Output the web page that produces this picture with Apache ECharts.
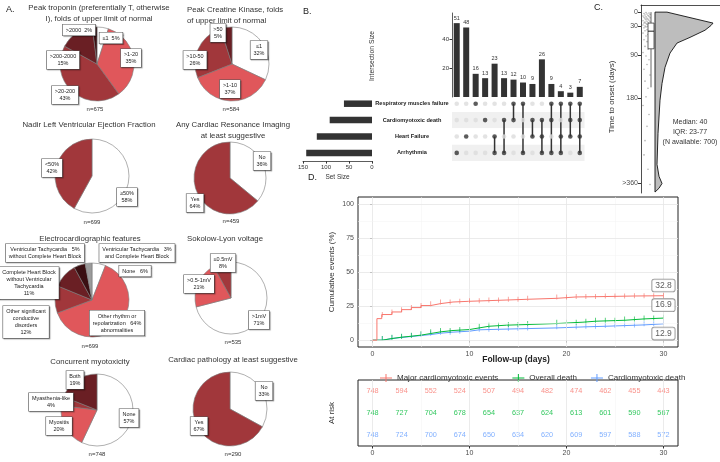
<!DOCTYPE html>
<html><head><meta charset="utf-8">
<script src="https://cdn.jsdelivr.net/npm/echarts@6/dist/echarts.min.js"></script>
<style>html,body{margin:0;padding:0;background:#fff}#c{width:720px;height:462px}</style>
</head><body><div id="c"></div>
<script>
// ================= DATA =================
// Panel A – pie charts (percentages as printed)
const tropNames = ['≤1', '>1-20', '>20-200', '>200-2000', '>2000'];
const tropValues = [5, 35, 43, 15, 2];
const ckNames = ['≤1', '>1-10', '>10-50', '>50'];
const ckValues = [32, 37, 26, 5];
const lvefNames = ['≥50%', '<50%'];
const lvefValues = [58, 42];
const cmrNames = ['No', 'Yes'];
const cmrValues = [36, 64];
const ecgNames = ['None', 'Other rhythm or\nrepolarization\nabnormalities', 'Other significant\nconductive\ndisorders',
  'Complete Heart Block\nwithout Ventricular\nTachycardia', 'Ventricular Tachycardia\nwithout Complete Heart Block',
  'Ventricular Tachycardia\nand Complete Heart Block'];
const ecgValues = [6, 64, 12, 11, 5, 3];
const slNames = ['>1mV', '>0.5-1mV', '≤0.5mV'];
const slValues = [71, 21, 8];
const myoNames = ['None', 'Myositis', 'Myasthenia-like', 'Both'];
const myoValues = [57, 20, 4, 19];
const pathNames = ['No', 'Yes'];
const pathValues = [33, 67];
const pieTitles = [
  'Peak troponin (preferentially T, otherwise\nI), folds of upper limit of normal',
  'Peak Creatine Kinase, folds\nof upper limit of normal',
  'Nadir Left Ventricular Ejection Fraction',
  'Any Cardiac Resonance Imaging\nat least suggestive',
  'Electrocardiographic features',
  'Sokolow-Lyon voltage',
  'Concurrent myotoxicity',
  'Cardiac pathology at least suggestive'];
const pieN = ['n=675', 'n=584', 'n=699', 'n=459', 'n=699', 'n=535', 'n=748', 'n=290'];

// Panel B – UpSet
const setNames = ['Respiratory muscles failure', 'Cardiomyotoxic death', 'Heart Failure', 'Arrhythmia'];
const setSizes = [61, 92, 120, 143];
const intersectSizes = [51, 48, 16, 13, 23, 13, 12, 10, 9, 26, 9, 4, 3, 7];
const intersectSets = [[3], [2], [0], [1], [2, 3], [1, 3], [0, 1], [0, 3], [1, 2], [1, 2, 3], [0, 1, 3], [0, 2, 3], [0, 1, 2], [0, 1, 2, 3]];

// Panel C – time to onset
const onsetTicks = [0, 30, 90, 180, 360];
const violinDays = [0, 6, 12, 18, 23, 28, 38, 53, 65, 86, 116, 150, 185, 255, 320, 345, 360, 370, 378];
const violinDensity = [12, 24, 36, 48, 58, 56, 50, 35, 22, 15, 10, 7, 5, 3, 2, 4, 7, 4, 0];
const boxStats = [0, 23, 40, 77, 158];
const onsetDays = [1, 2, 3, 4, 5, 6, 7, 8, 9, 10, 11, 12, 13, 14, 15, 16, 17, 18, 19, 20, 21, 22, 23, 24, 25, 26, 27, 28, 29, 30,
  31, 33, 35, 37, 39, 41, 44, 47, 50, 54, 58, 62, 67, 72, 78, 85, 92, 100, 110, 120, 132, 145, 160, 178, 196, 215, 240, 270, 300, 330, 362];
const onsetJitter = [5, 8, 3, 6, 9, 4, 7, 2, 8, 5, 3, 9, 6, 4, 7, 5, 8, 2, 6, 9, 4, 7, 3, 5, 8, 6, 2, 9, 4, 7,
  5, 3, 8, 6, 4, 9, 2, 7, 5, 8, 3, 6, 9, 4, 7, 2, 5, 8, 6, 3, 9, 4, 7, 5, 2, 8, 6, 4, 3, 7, 9];

// Panel D – cumulative incidence (days, %)
const kmNames = ['Major cardiomyotoxic events', 'Overall death', 'Cardiomyotoxic death'];
const majorEvents = [[0, 0], [0.45, 15.8], [0.95, 18.8], [2, 20.7], [3, 22.4], [4, 23.9], [5, 25.4], [6, 26.8], [7, 28], [8.3, 28.5],
  [9.9, 29], [12, 29.5], [14, 30], [16, 30.7], [19, 31.7], [21, 32], [24, 32.4], [27, 32.6], [30, 32.8]];
const overallDeath = [[0, 0], [1, 1.2], [2, 2.2], [3, 2.9], [4, 3.7], [5, 4.9], [6, 6.1], [7, 7.1], [8.3, 7.8], [10, 9], [11, 10.2],
  [12, 11], [13.8, 11.5], [16, 12.2], [19, 13.2], [21.7, 13.9], [23, 14.6], [26, 15.6], [28, 16.2], [30, 16.9]];
const cardioDeath = [[0, 0], [1, 1.2], [2, 2], [3, 2.7], [4, 3.4], [5, 4.1], [6, 5.1], [7, 5.9], [8.3, 6.6], [10, 7.6], [11, 8],
  [13, 8.5], [16, 9], [19, 9.8], [22, 10.2], [24, 10.7], [26, 11.2], [28, 12], [30, 12.9]];
const censorTimes = [1, 2, 3, 4, 5, 6, 7, 8, 9, 10, 11, 12, 13, 14, 15, 16, 19, 20, 21, 22, 23, 24, 25, 26, 27, 28, 29, 30];
const kmTicks = [0, 10, 20, 30];
const kmYTicks = [0, 25, 50, 75, 100];
const riskTimes = [0, 3, 6, 9, 12, 15, 18, 21, 24, 27, 30];
const riskMajor = [748, 594, 552, 524, 507, 494, 482, 474, 462, 455, 443];
const riskOverall = [748, 727, 704, 678, 654, 637, 624, 613, 601, 590, 567];
const riskCardio = [748, 724, 700, 674, 650, 634, 620, 609, 597, 588, 572];

// ================= STYLE / LAYOUT =================
const FONT = '"Liberation Sans", Arial, sans-serif';
const W = '#ffffff', L = '#e0575b', M = '#a1373b', D = '#6a1f24', K = '#3a0f12', G = '#9b9b9b';
const KMC = ['#F8766D', '#00BA38', '#619CFF'];

const pies = [
  {names: tropNames, values: tropValues, colors: [W, L, M, D, K], center: [97, 64], r: 37,
    fmt: ['{0}  {v}', '{0}\n{v}', '{0}\n{v}', '{0}\n{v}', '{0}  {v}'],
    lp: [[111, 38], [131, 58], [65, 95], [63, 60], [79, 30]],
    title: [99, 8, 'center'], n: [95, 109]},
  {names: ckNames, values: ckValues, colors: [W, L, M, D], center: [232, 64], r: 37,
    fmt: ['{0}\n{v}', '{0}\n{v}', '{0}\n{v}', '{0}\n{v}'],
    lp: [[259, 50], [230, 89], [195, 60], [218, 33]],
    title: [187, 10, 'left'], n: [231, 109]},
  {names: lvefNames, values: lvefValues, colors: [W, M], center: [92, 176], r: 37,
    fmt: ['{0}\n{v}', '{0}\n{v}'], lp: [[127, 197], [52, 168]],
    title: [89, 125, 'center'], n: [92, 222]},
  {names: cmrNames, values: cmrValues, colors: [W, M], center: [230, 178], r: 36,
    fmt: ['{0}\n{v}', '{0}\n{v}'], lp: [[262, 161], [195, 203]],
    title: [233, 125, 'center'], n: [231, 221]},
  {names: ecgNames, values: ecgValues, colors: [W, L, M, D, K, G], center: [92, 300], r: 37,
    fmt: ['{0}   {v}', '{0}\n{1}   {v}\n{2}', '{0}\n{1}\n{2}\n{v}', '{0}\n{1}\n{2}\n{v}', '{0}   {v}\n{1}', '{0}   {v}\n{1}'],
    lp: [[135, 271], [117, 323], [26, 322], [29, 283], [45, 253], [137, 253]],
    title: [90, 239, 'center'], n: [90, 346]},
  {names: slNames, values: slValues, colors: [W, L, M], center: [231, 298], r: 36,
    fmt: ['{0}\n{v}', '{0}\n{v}', '{0}\n{v}'], lp: [[259, 320], [199, 284], [223, 263]],
    title: [187, 239, 'left'], n: [233, 342]},
  {names: myoNames, values: myoValues, colors: [W, L, M, D], center: [97, 410], r: 36,
    fmt: ['{0}\n{v}', '{0}\n{v}', '{0}\n{v}', '{0}\n{v}'],
    lp: [[129, 418], [59, 426], [51, 402], [75, 380]],
    title: [90, 362, 'center'], n: [97, 454]},
  {names: pathNames, values: pathValues, colors: [W, M], center: [230, 409], r: 37,
    fmt: ['{0}\n{v}', '{0}\n{v}'], lp: [[264, 391], [199, 426]],
    title: [233, 360, 'center'], n: [233, 454]}
];

function pieSeries(p) {
  return {
    type: 'pie', center: p.center, radius: p.r, startAngle: 90, clockwise: true,
    avoidLabelOverlap: false, silent: true, animation: false,
    data: p.names.map((n, i) => ({name: n, value: p.values[i], itemStyle: {color: p.colors[i]}})),
    itemStyle: {borderColor: '#7a7a7a', borderWidth: 0.6},
    label: {
      show: true, position: 'outside',
      formatter: q => p.fmt[q.dataIndex].replace('{v}', q.value + '%').replace(/\{(\d)\}/g, (m, k) => q.name.split('\n')[+k]),
      fontSize: 5.5, lineHeight: 7, color: '#222', fontFamily: FONT,
      backgroundColor: '#fff', borderColor: '#555', borderWidth: 0.6, padding: [2, 3], align: 'center',
      shadowColor: 'rgba(0,0,0,0.25)', shadowOffsetX: 1, shadowOffsetY: 1, shadowBlur: 1
    },
    labelLine: {show: false},
    labelLayout: q => ({x: p.lp[q.dataIndex][0], y: p.lp[q.dataIndex][1], align: 'center', verticalAlign: 'middle'}),
    emphasis: {disabled: true}
  };
}

function stepAt(arr, t) {
  let v = arr[0][1];
  for (const [x, y] of arr) { if (x <= t) v = y; }
  return v;
}

const chart = echarts.init(document.getElementById('c'), null, {renderer: 'canvas'});

const graphics = [];
function txt(x, y, text, opt) {
  graphics.push(Object.assign({type: 'text', x, y, silent: true,
    style: Object.assign({text, fill: '#333', font: '7.5px ' + FONT, textAlign: 'center', textVerticalAlign: 'middle'}, opt || {})}));
}
pies.forEach((p, i) => {
  const lines = pieTitles[i].split('\n');
  lines.forEach((ln, j) => txt(p.title[0], p.title[1] + j * 10.5, ln, {textAlign: p.title[2], font: '7.8px ' + FONT}));
  txt(p.n[0], p.n[1], pieN[i], {font: '6px ' + FONT});
});
txt(6, 10, 'A.', {textAlign: 'left', font: '9px ' + FONT, fill: '#222'});
txt(303, 12, 'B.', {textAlign: 'left', font: '9px ' + FONT, fill: '#222'});
txt(594, 8, 'C.', {textAlign: 'left', font: '9px ' + FONT, fill: '#222'});
txt(308, 178, 'D.', {textAlign: 'left', font: '9px ' + FONT, fill: '#222'});
txt(690, 122, 'Median: 40', {font: '7px ' + FONT});
txt(690, 132, 'IQR: 23-77', {font: '7px ' + FONT});
txt(690, 142, '(N available: 700)', {font: '7px ' + FONT});
txt(516, 360, 'Follow-up (days)', {font: 'bold 8.5px ' + FONT, fill: '#222'});
graphics.push({type: 'text', x: 332, y: 272, rotation: Math.PI / 2, silent: true,
  style: {text: 'Cumulative events (%)', fill: '#333', font: '8px ' + FONT, textAlign: 'center', textVerticalAlign: 'middle'}});
graphics.push({type: 'text', x: 332, y: 413, rotation: Math.PI / 2, silent: true,
  style: {text: 'At risk', fill: '#333', font: '8px ' + FONT, textAlign: 'center', textVerticalAlign: 'middle'}});
graphics.push({type: 'text', x: 612, y: 97, rotation: Math.PI / 2, silent: true,
  style: {text: 'Time to onset (days)', fill: '#333', font: '8px ' + FONT, textAlign: 'center', textVerticalAlign: 'middle'}});
graphics.push({type: 'text', x: 372, y: 56, rotation: Math.PI / 2, silent: true,
  style: {text: 'Intersection Size', fill: '#333', font: '6.8px ' + FONT, textAlign: 'center', textVerticalAlign: 'middle'}});

const axisTxt = {fontSize: 6, color: '#333', fontFamily: FONT};
const kmAxisTxt = {fontSize: 7, color: '#4d4d4d', fontFamily: FONT};
const VBASE = 14, BX = 10;

const gridLineSeries = (xi, yi, vx, vy, minorX, minorY) => ({
  type: 'line', xAxisIndex: xi, yAxisIndex: yi, data: [], silent: true, z: 1,
  markLine: {silent: true, symbol: 'none', animation: false, label: {show: false},
    data: [
      ...vx.map(v => ({xAxis: v, lineStyle: {color: '#e6e6e6', width: 0.8, type: 'solid'}})),
      ...minorX.map(v => ({xAxis: v, lineStyle: {color: '#f3f3f3', width: 0.5, type: 'solid'}})),
      ...vy.map(v => ({yAxis: v, lineStyle: {color: '#e6e6e6', width: 0.8, type: 'solid'}})),
      ...minorY.map(v => ({yAxis: v, lineStyle: {color: '#f3f3f3', width: 0.5, type: 'solid'}}))
    ]}
});

const riskRows = [riskMajor, riskOverall, riskCardio];

const option = {
  animation: false,
  textStyle: {fontFamily: FONT},
  graphic: graphics,
  legend: {
    top: 369, left: 375, itemGap: 14, itemWidth: 12, itemHeight: 8,
    textStyle: {fontSize: 8, color: '#333', fontFamily: FONT},
    data: kmNames.map((n, i) => ({name: n, icon: 'path://M0,4.5L12,4.5L12,5.5L0,5.5Z M5.5,1L6.5,1L6.5,9L5.5,9Z'})),
    selectedMode: false
  },
  grid: [
    {left: 452, top: 13, width: 132.5, height: 84},
    {left: 452, top: 95.5, width: 132.5, height: 65.6},
    {left: 303, top: 95.5, width: 69, height: 65.6},
    {left: 641, top: 5, width: 79, height: 188},
    {left: 358, top: 197, width: 320, height: 150, show: true, borderColor: '#222', borderWidth: 1, backgroundColor: '#fff'},
    {left: 358, top: 380, width: 320, height: 66, show: true, borderColor: '#222', borderWidth: 1, backgroundColor: '#fff'}
  ],
  xAxis: [
    {gridIndex: 0, type: 'category', data: intersectSizes.map((v, i) => i), show: false},
    {gridIndex: 1, type: 'category', data: intersectSizes.map((v, i) => i), show: false},
    {gridIndex: 2, type: 'value', inverse: true, min: 0, max: 150, interval: 50,
      axisLine: {show: true, lineStyle: {color: '#333', width: 0.8}}, axisTick: {show: true, length: 2.5, lineStyle: {color: '#333'}},
      axisLabel: Object.assign({margin: 3}, axisTxt), splitLine: {show: false},
      name: 'Set Size', nameLocation: 'middle', nameGap: 13, nameTextStyle: {fontSize: 6.5, color: '#333', fontFamily: FONT}},
    {gridIndex: 3, type: 'value', min: 0, max: 79, position: 'top',
      axisLine: {show: true, onZero: false, lineStyle: {color: '#222', width: 0.8}}, axisTick: {show: false}, axisLabel: {show: false}, splitLine: {show: false}},
    {gridIndex: 4, type: 'value', min: -1.5, max: 31.5,
      axisLine: {show: false}, axisTick: {show: true, length: 2.5, customValues: kmTicks, lineStyle: {color: '#333'}},
      axisLabel: Object.assign({margin: 4, customValues: kmTicks}, kmAxisTxt), splitLine: {show: false}},
    {gridIndex: 5, type: 'value', min: -1.5, max: 31.5,
      axisLine: {show: false}, axisTick: {show: true, length: 2.5, customValues: kmTicks, lineStyle: {color: '#333'}},
      axisLabel: Object.assign({margin: 4, customValues: kmTicks}, kmAxisTxt), splitLine: {show: false}}
  ],
  yAxis: [
    {gridIndex: 0, type: 'value', min: 0, max: 58,
      axisLine: {show: true, lineStyle: {color: '#333', width: 0.8}},
      axisTick: {show: true, length: 2.5, customValues: [20, 40], lineStyle: {color: '#333'}},
      axisLabel: Object.assign({margin: 3, customValues: [20, 40]}, axisTxt), splitLine: {show: false}},
    {gridIndex: 1, type: 'category', data: setNames, inverse: true,
      axisLine: {show: false}, axisTick: {show: false},
      axisLabel: {fontSize: 5.6, fontWeight: 'bold', color: '#222', align: 'center', margin: 40, fontFamily: FONT},
      splitArea: {show: true, areaStyle: {color: ['#ffffff', '#f0f0f0']}}},
    {gridIndex: 2, type: 'category', data: setNames, inverse: true, show: false},
    {gridIndex: 3, type: 'value', inverse: true, min: -15, max: 380,
      axisLine: {show: true, lineStyle: {color: '#222', width: 0.8}},
      axisTick: {show: true, length: 3, customValues: onsetTicks, lineStyle: {color: '#333'}},
      axisLabel: Object.assign({margin: 3, customValues: onsetTicks, formatter: v => v === 360 ? '>360' : String(v)}, kmAxisTxt),
      splitLine: {show: false}},
    {gridIndex: 4, type: 'value', min: -5, max: 105,
      axisLine: {show: false}, axisTick: {show: true, length: 2.5, customValues: kmYTicks, lineStyle: {color: '#333'}},
      axisLabel: Object.assign({margin: 4, customValues: kmYTicks}, kmAxisTxt), splitLine: {show: false}},
    {gridIndex: 5, type: 'category', data: kmNames, inverse: true, show: false}
  ],
  series: [
    ...pies.map(pieSeries),
    {type: 'bar', xAxisIndex: 0, yAxisIndex: 0, data: intersectSizes, barWidth: 6, silent: true,
      itemStyle: {color: '#333'},
      label: {show: true, position: 'top', distance: 2, fontSize: 5.5, color: '#333', fontFamily: FONT}},
    {type: 'custom', xAxisIndex: 1, yAxisIndex: 1, silent: true, z: 2,
      data: intersectSets.map((s, i) => [i, Math.min(...s), Math.max(...s)]),
      renderItem: (params, api) => {
        const a = api.coord([api.value(0), api.value(1)]);
        const b = api.coord([api.value(0), api.value(2)]);
        return {type: 'line', shape: {x1: a[0], y1: a[1], x2: b[0], y2: b[1]}, style: {stroke: '#333', lineWidth: 1.5}};
      }},
    {type: 'scatter', xAxisIndex: 1, yAxisIndex: 1, symbolSize: 4.6, silent: true, z: 3,
      data: intersectSets.flatMap((s, c) => setNames.map((n, r) => ({value: [c, r], itemStyle: {color: s.includes(r) ? '#333' : '#dcdcdc'}})))},
    {type: 'bar', xAxisIndex: 2, yAxisIndex: 2, data: setSizes, barWidth: 6.5, silent: true, itemStyle: {color: '#333'}},
    {type: 'scatter', xAxisIndex: 3, yAxisIndex: 3, silent: true, symbolSize: 1.6,
      itemStyle: {color: 'rgba(80,80,80,0.55)'},
      data: onsetDays.slice(0, onsetJitter.length).map((d, i) => [onsetJitter[i], d])},
    {type: 'custom', xAxisIndex: 3, yAxisIndex: 3, silent: true, data: [0],
      renderItem: (params, api) => {
        const pts = violinDays.map((d, i) => api.coord([VBASE + violinDensity[i], d]));
        pts.push(api.coord([VBASE, violinDays[violinDays.length - 1]]));
        pts.push(api.coord([VBASE, violinDays[0]]));
        return {type: 'polygon', shape: {points: pts}, style: {fill: '#bdbdbd', stroke: '#111', lineWidth: 0.9}};
      }},
    {type: 'custom', xAxisIndex: 3, yAxisIndex: 3, silent: true, data: [boxStats], z: 4,
      renderItem: (params, api) => {
        const s = [0, 1, 2, 3, 4].map(k => api.value(k));
        const c = (x, y) => api.coord([x, y]);
        const lo = c(BX, s[0]), q1 = c(BX - 3, s[1]), q3 = c(BX + 3, s[3]), md1 = c(BX - 3, s[2]), md2 = c(BX + 3, s[2]),
          q1c = c(BX, s[1]), q3c = c(BX, s[3]), hi = c(BX, s[4]);
        const st = {stroke: '#222', lineWidth: 0.7, fill: null};
        return {type: 'group', children: [
          {type: 'line', shape: {x1: lo[0], y1: lo[1], x2: q1c[0], y2: q1c[1]}, style: st},
          {type: 'line', shape: {x1: q3c[0], y1: q3c[1], x2: hi[0], y2: hi[1]}, style: st},
          {type: 'rect', shape: {x: q1[0], y: q1[1], width: q3[0] - q1[0], height: q3[1] - q1[1]}, style: {stroke: '#222', lineWidth: 0.7, fill: '#fff'}},
          {type: 'line', shape: {x1: md1[0], y1: md1[1], x2: md2[0], y2: md2[1]}, style: {stroke: '#222', lineWidth: 1}}
        ]};
      }},
    gridLineSeries(4, 4, kmTicks, kmYTicks, [5, 15, 25], [12.5, 37.5, 62.5, 87.5]),
    gridLineSeries(5, 5, kmTicks, [], [5, 15, 25], []),
    ...[cardioDeath, overallDeath, majorEvents].map((arr, k) => {
      const i = 2 - k;
      return {type: 'line', name: kmNames[i], xAxisIndex: 4, yAxisIndex: 4, data: arr, step: 'end', symbol: 'none',
        silent: true, z: 3 + k, color: KMC[i], lineStyle: {color: KMC[i], width: 1}};
    }),
    ...[cardioDeath, overallDeath, majorEvents].map((arr, k) => {
      const i = 2 - k;
      return {type: 'scatter', xAxisIndex: 4, yAxisIndex: 4, silent: true, z: 3 + k, symbol: 'rect', symbolSize: [0.8, 5],
        itemStyle: {color: KMC[i]}, data: censorTimes.map(t => [t, stepAt(arr, t)])};
    }),
    ...[majorEvents, overallDeath, cardioDeath].map((arr, i) => {
      const last = arr[arr.length - 1];
      return {type: 'scatter', xAxisIndex: 4, yAxisIndex: 4, silent: true, z: 10, symbolSize: 1,
        itemStyle: {color: 'transparent'}, data: [last],
        label: {show: true, position: 'inside', offset: [0, [-10, -12, 11][i]], formatter: p => p.value[1].toFixed(1),
          fontSize: 8.5, color: '#333', fontFamily: FONT, backgroundColor: '#fff', borderColor: '#777', borderWidth: 0.8,
          borderRadius: 2, padding: [2, 3, 1, 3]}};
    }),
    ...riskRows.map((vals, r) => ({
      type: 'scatter', xAxisIndex: 5, yAxisIndex: 5, silent: true, symbolSize: 1, itemStyle: {color: 'transparent'},
      data: riskTimes.map((t, i) => [t, r, vals[i]]),
      label: {show: true, position: 'inside', formatter: p => String(p.value[2]), fontSize: 7.3, color: KMC[r], fontFamily: FONT}
    }))
  ]
};
chart.setOption(option);
</script></body></html>
